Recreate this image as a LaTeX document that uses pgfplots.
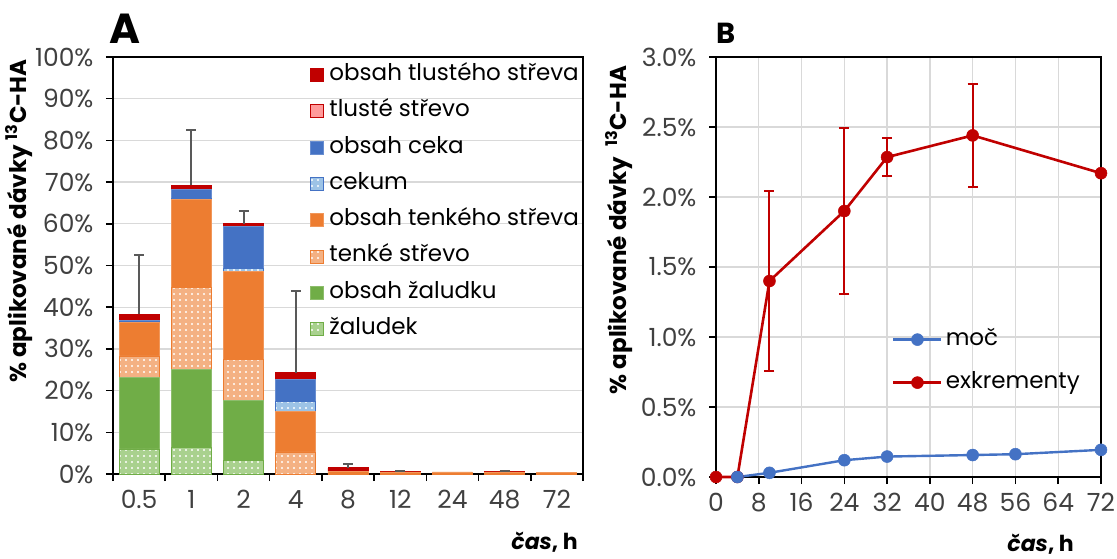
\documentclass[border=0pt]{standalone}
\usepackage{fontspec}
\setmainfont{Poppins}
\usepackage{pgfplots}
\usepackage{pgfplotstable}
\pgfplotsset{compat=1.18}
\usetikzlibrary{patterns.meta}
\definecolor{cdred}{HTML}{C00000}
\definecolor{cpink}{HTML}{FF9B9B}
\definecolor{cblue}{HTML}{4472C4}
\definecolor{clblue}{HTML}{9DC3E6}
\definecolor{corange}{HTML}{ED7D31}
\definecolor{clorange}{HTML}{F4B183}
\definecolor{cgreen}{HTML}{70AD47}
\definecolor{clgreen}{HTML}{A9D18E}
\definecolor{cgrid}{HTML}{D9D9D9}
\definecolor{ctick}{HTML}{404040}
\definecolor{cerr}{HTML}{595959}

\pgfplotstableread{
x zal ozal ten oten cek ocek tlu otlu
0 6.0 17.1 5.2 8.1 0.1 0.3 0.1 1.4
1 6.4 18.7 19.6 21.1 0.2 2.2 0.1 0.9
2 3.3 14.4 9.8 21.1 0.6 10.1 0.1 0.6
3 0 0 5.3 9.6 2.4 5.3 0.1 1.6
4 0 0 0.2 0.4 0 0 0.1 0.8
5 0 0 0.1 0.4 0 0 0 0.05
6 0 0 0.1 0.4 0 0 0 0
7 0 0 0.1 0.4 0 0 0 0.05
8 0 0 0.05 0.25 0 0 0 0
}\dataA

\pgfplotstableread{
x tot err
0 38.3 14.1
1 69.2 13.3
2 60.0 3.0
3 24.3 19.6
4 1.5 0.9
5 0.55 0.1
7 0.55 0.1
}\errA

\pgfplotstableread{
x y ep em
0 0 0 0
4 0 0 0
10 1.40 0.645 0.64
24 1.90 0.59 0.59
32 2.285 0.135 0.135
48 2.44 0.37 0.37
72 2.17 0 0
}\exkr

\pgfplotstableread{
x y
4 0
10 0.03
24 0.12
32 0.146
48 0.157
56 0.163
72 0.194
}\moc

\pgfplotsset{
  commonstyle/.style={
    scale only axis, anchor=south west,
    tick align=outside,
    major tick length=7pt,
    tick style={black, line width=1.5pt},
    axis line style={black, line width=1.5pt},
    grid style={cgrid, line width=1.3pt},
    tick label style={font=\fontsize{25}{29}\selectfont, text=ctick},
    xticklabel style={yshift=-6pt},
    yticklabel style={xshift=-9pt},
    xtick pos=bottom, ytick pos=left,
  },
  dotpat/.style={draw=#1, line width=0.8pt, pattern={Dots[radius=1.1pt,distance=6pt]}, pattern color=white},
}

\begin{document}
\begin{tikzpicture}
\useasboundingbox (0,0) rectangle (1117pt,-558pt);

% ---------- Panel A ----------
\begin{axis}[commonstyle,
  at={(113pt,-474pt)}, width=470pt, height=417pt,
  ybar stacked, bar width=40pt,
  xmin=-0.5, xmax=8.5, ymin=0, ymax=100,
  xtick={-0.5,0.5,1.5,2.5,3.5,4.5,5.5,6.5,7.5,8.5},
  x tick label as interval,
  xticklabels={0.5,1,2,4,8,12,24,48,72},
  ytick={0,10,20,30,40,50,60,70,80,90,100},
  yticklabels={0\%,10\%,20\%,30\%,40\%,50\%,60\%,70\%,80\%,90\%,100\%},
  ymajorgrids,
  reverse legend,
  legend cell align=left,
  legend image code/.code={\draw[#1] (0pt,-6.5pt) rectangle (13pt,6.5pt);},
  legend style={at={(0.418,0.985)}, anchor=north west, draw=none, fill=none,
    inner sep=0pt, row sep=13.3pt,
    font=\fontsize{23}{27}\selectfont,
    nodes={inner sep=0pt, text height=17pt, text depth=6pt},
    /tikz/every odd column/.append style={column sep=6pt}},
]
\addplot[dotpat=cgreen, preaction={fill=clgreen}] table[x=x,y=zal] {\dataA};
\addlegendentry{žaludek}
\addplot[fill=cgreen, draw=cgreen!80!white, line width=0.8pt] table[x=x,y=ozal] {\dataA};
\addlegendentry{obsah žaludku}
\addplot[dotpat=corange, preaction={fill=clorange}] table[x=x,y=ten] {\dataA};
\addlegendentry{tenké střevo}
\addplot[fill=corange, draw=corange!80!white, line width=0.8pt] table[x=x,y=oten] {\dataA};
\addlegendentry{obsah tenkého střeva}
\addplot[dotpat=cblue, preaction={fill=clblue}] table[x=x,y=cek] {\dataA};
\addlegendentry{cekum}
\addplot[fill=cblue, draw=cblue!80!white, line width=0.8pt] table[x=x,y=ocek] {\dataA};
\addlegendentry{obsah ceka}
\addplot[fill=cpink, draw=cdred, line width=0.8pt] table[x=x,y=tlu] {\dataA};
\addlegendentry{tlusté střevo}
\addplot[fill=cdred, draw=cdred, line width=0.8pt] table[x=x,y=otlu] {\dataA};
\addlegendentry{obsah tlustého střeva}
\end{axis}

% error bars of panel A
\begin{axis}[scale only axis, anchor=south west,
  at={(113pt,-474pt)}, width=470pt, height=417pt,
  xmin=-0.5, xmax=8.5, ymin=0, ymax=100, hide axis]
\addplot[draw=none, mark=none,
  error bars/.cd, y dir=plus, y explicit,
  error bar style={draw=cerr, line width=2pt},
  error mark options={rotate=90, draw=cerr, mark size=5pt, line width=2pt}]
  table[x=x, y=tot, y error=err] {\errA};
\end{axis}

% ---------- Panel B ----------
\begin{axis}[commonstyle,
  at={(716pt,-477pt)}, width=385pt, height=420pt,
  xmin=0, xmax=72, ymin=0, ymax=3,
  xtick={0,8,16,24,32,40,48,56,64,72},
  xticklabels={0,8,16,24,32,40,48,56,64,72},
  ytick={0,0.5,1,1.5,2,2.5,3},
  yticklabels={0.0\%,0.5\%,1.0\%,1.5\%,2.0\%,2.5\%,3.0\%},
  grid=major,
  clip=false,
  legend cell align=left,
  legend image code/.code={\draw[mark repeat=2, mark phase=2, #1] plot coordinates {(0pt,0pt) (24pt,0pt) (48pt,0pt)};},
  legend style={at={(0.457,0.355)}, anchor=north west, draw=none, fill=none,
    inner sep=0pt, row sep=20pt,
    font=\fontsize{23}{27}\selectfont,
    nodes={inner sep=0pt, text height=17pt, text depth=6pt},
    /tikz/every odd column/.append style={column sep=3pt}},
]
\addplot[forget plot, cdred, line width=2.6pt, mark=*, mark size=6pt, mark options={fill=cdred, draw=cdred, line width=0.5pt},
  error bars/.cd, y dir=both, y explicit,
  error bar style={cdred, line width=2pt},
  error mark options={rotate=90, cdred, mark size=5pt, line width=2pt}]
  table[x=x, y=y, y error plus=ep, y error minus=em] {\exkr};
\addplot[forget plot, cblue, line width=2.4pt, mark=*, mark size=6pt, mark options={fill=cblue, draw=cblue, line width=0.5pt}]
  table[x=x, y=y] {\moc};
\addlegendimage{cblue, line width=2.4pt, mark=*, mark size=6pt, mark options={fill=cblue, draw=cblue, line width=0.5pt}}
\addlegendentry{moč}
\addlegendimage{cdred, line width=2.6pt, mark=*, mark size=6pt, mark options={fill=cdred, draw=cdred, line width=0.5pt}}
\addlegendentry{exkrementy}
\end{axis}

% ---------- texts ----------
\node[anchor=base west, font=\bfseries\fontsize{42}{46}\selectfont, inner sep=0pt] at (109pt,-43pt) {A};
\node[anchor=base west, font=\bfseries\fontsize{29}{32}\selectfont, inner sep=0pt] at (716pt,-43pt) {B};
\node[rotate=90, font=\bfseries\fontsize{23}{27}\selectfont, inner sep=0pt] at (19pt,-221pt) {\% aplikované dávky \textsuperscript{13}C-HA};
\node[rotate=90, font=\bfseries\fontsize{23}{27}\selectfont, inner sep=0pt] at (619pt,-230pt) {\% aplikované dávky \ \textsuperscript{13}C-HA};
\node[anchor=east, font=\bfseries\fontsize{22}{26}\selectfont, inner sep=0pt] at (578pt,-542pt) {\textit{čas}, h};
\node[anchor=east, font=\bfseries\fontsize{22}{26}\selectfont, inner sep=0pt] at (1074pt,-544pt) {\textit{čas}, h};
\end{tikzpicture}
\end{document}
